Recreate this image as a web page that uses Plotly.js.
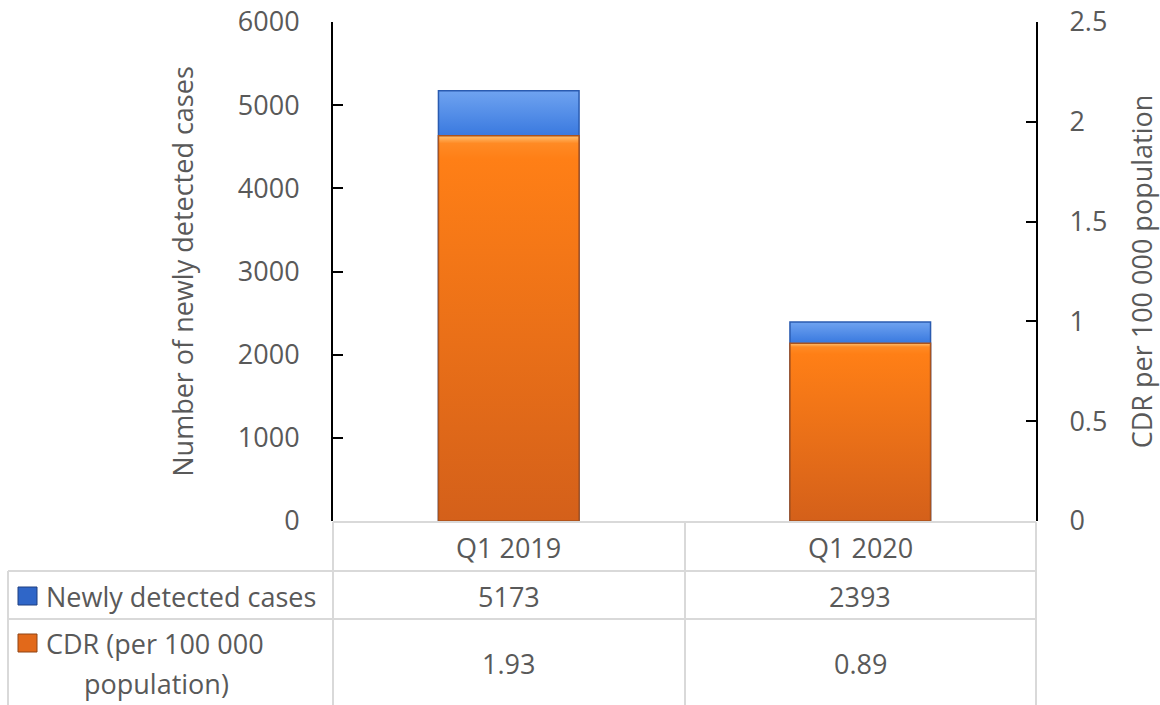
<!DOCTYPE html>
<html>
<head>
<meta charset="utf-8">
<script src="https://cdn.plot.ly/plotly-3.0.1.min.js"></script>
<style>
  html, body { margin: 0; padding: 0; background: #fff; }
  #chart { width: 1160px; height: 705px; }
</style>
</head>
<body>
<div id="chart"></div>
<script>
// data
const categories = ['Q1 2019', 'Q1 2020'];
const newCases = [5173, 2393];
const cdr = [1.93, 0.89];
const seriesNames = ['Newly detected cases', 'CDR (per 100 000<br>population)'];

const FONT = '"Open Sans", "Liberation Sans", sans-serif';
const FS = 27;
const GREY = '#595959';
const LINE = '#d9d9d9';

// plot area in pixels, used to place the data table below it
const W = 1160, H = 705;
const M = { l: 333, r: 124, t: 22, b: 184 };
const pw = W - M.l - M.r;
const ph = H - M.t - M.b;
const px = (x) => (x - M.l) / pw;
const py = (y) => (H - M.b - y) / ph;

const traces = [
  {
    type: 'bar',
    name: 'Newly detected cases',
    x: categories,
    y: newCases,
    yaxis: 'y',
    width: 0.4,
    marker: { color: '#3371d9', line: { color: '#2a5bb0', width: 1.5 } },
    hoverinfo: 'x+y',
  },
  {
    type: 'bar',
    name: 'CDR',
    x: categories,
    y: cdr,
    yaxis: 'y2',
    width: 0.4,
    marker: { color: '#f97b17', line: { color: '#a9521c', width: 1.5 } },
    hoverinfo: 'x+y',
  },
];

// data table grid below the plot
const shapes = [];
const hline = (x0, x1, y) => shapes.push({
  type: 'line', xref: 'paper', yref: 'paper',
  x0: px(x0), x1: px(x1), y0: py(y), y1: py(y),
  line: { color: LINE, width: 2 }, layer: 'below',
});
const vline = (x, y0, y1) => shapes.push({
  type: 'line', xref: 'paper', yref: 'paper',
  x0: px(x), x1: px(x), y0: py(y0), y1: py(y1),
  line: { color: LINE, width: 2 }, layer: 'below',
});
hline(333, 1036, 522);
hline(8, 1036, 571);
hline(8, 1036, 619);
vline(333, 522, 705);
vline(685, 522, 705);
vline(1036, 522, 705);
vline(8, 571, 705);

// legend keys inside the table
const keys = [
  { y: 596, fill: '#2f66c8', edge: '#1f3f80' },
  { y: 643, fill: '#e2691a', edge: '#8f4514' },
];
keys.forEach((k) => shapes.push({
  type: 'rect', xref: 'paper', yref: 'paper',
  x0: px(18), x1: px(37), y0: py(k.y - 9), y1: py(k.y + 9),
  fillcolor: k.fill, line: { color: k.edge, width: 1 },
}));

const annotations = [];
const note = (text, x, xref, y, extra = {}) => annotations.push({
  text, x, xref, y: py(y), yref: 'paper', yanchor: 'middle', showarrow: false,
  font: { family: FONT, size: FS, color: GREY }, ...extra,
});

categories.forEach((c, i) => {
  note(c, c, 'x', 547);
  note(String(newCases[i]), c, 'x', 596);
  note(cdr[i].toFixed(2), c, 'x', 663);
});
note(seriesNames[0], px(44), 'paper', 596, { xanchor: 'left' });
// second legend label is wrapped over two lines in the table
const cdrLines = seriesNames[1].split('<br>');
note(cdrLines[0], px(44), 'paper', 643, { xanchor: 'left' });
note(cdrLines[1], px(156), 'paper', 683, { xanchor: 'center' });

const axisBase = {
  showgrid: false,
  zeroline: false,
  showline: true,
  linecolor: '#000',
  linewidth: 2,
  ticks: 'inside',
  ticklen: 10,
  tickwidth: 2,
  tickcolor: '#000',
  ticklabelstandoff: 26,
  tickfont: { family: FONT, size: FS, color: GREY },
};

const layout = {
  width: W,
  height: H,
  margin: M,
  paper_bgcolor: '#fff',
  plot_bgcolor: '#fff',
  barmode: 'overlay',
  showlegend: false,
  font: { family: FONT, color: GREY },
  xaxis: {
    showticklabels: false,
    showline: false,
    showgrid: false,
    zeroline: false,
    ticks: '',
  },
  yaxis: {
    ...axisBase,
    range: [0, 6000],
    dtick: 1000,
    title: { text: 'Number of newly detected cases', font: { family: FONT, size: FS, color: GREY }, standoff: 36 },
  },
  yaxis2: {
    ...axisBase,
    overlaying: 'y',
    side: 'right',
    range: [0, 2.5],
    dtick: 0.5,
    title: { text: 'CDR per 100 000 population', font: { family: FONT, size: FS, color: GREY }, standoff: 28 },
  },
  shapes,
  annotations,
};

const gd = document.getElementById('chart');
Plotly.newPlot(gd, traces, layout, { displayModeBar: false, staticPlot: true }).then(() => {
  // fake the bevelled Excel look with vertical gradients on the bar paths
  const defs = gd.querySelector('.main-svg defs');
  const ns = 'http://www.w3.org/2000/svg';
  const addGrad = (id, stops) => {
    const g = document.createElementNS(ns, 'linearGradient');
    g.setAttribute('id', id);
    g.setAttribute('x1', '0'); g.setAttribute('y1', '0');
    g.setAttribute('x2', '0'); g.setAttribute('y2', '1');
    stops.forEach(([off, col]) => {
      const s = document.createElementNS(ns, 'stop');
      s.setAttribute('offset', off);
      s.setAttribute('stop-color', col);
      g.appendChild(s);
    });
    defs.appendChild(g);
  };
  addGrad('gradBlue', [[0, '#6fa3f0'], [0.1, '#3c7be0'], [0.2, '#3371d9'], [1, '#2f6ad0']]);
  addGrad('gradOrange', [[0, '#ffc070'], [0.02, '#ff8a24'], [0.06, '#ff7f16'], [1, '#d4601a']]);
  const bars = gd.querySelectorAll('.barlayer .trace');
  bars.forEach((tr, i) => {
    tr.querySelectorAll('path').forEach((p) => {
      p.style.fill = i === 0 ? 'url(#gradBlue)' : 'url(#gradOrange)';
    });
  });
});
</script>
</body>
</html>
